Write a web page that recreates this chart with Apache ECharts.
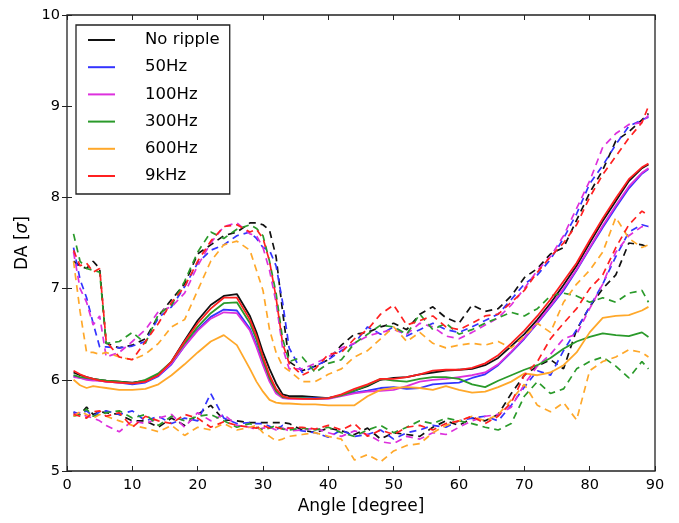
<!DOCTYPE html>
<html>
<head>
<meta charset="utf-8">
<script src="https://cdn.jsdelivr.net/npm/echarts@6/dist/echarts.min.js"></script>
<style>
html, body { margin: 0; padding: 0; background: #fff; }
#chart { width: 679px; height: 523px; }
</style>
</head>
<body>
<div id="chart"></div>
<script>
// sampled angles [degree]
const angles = [1, 2, 3, 4, 5, 6, 8, 10, 12, 14,
  16, 18, 20, 22, 24, 26, 28, 29, 30, 31,
  32, 33, 34, 36, 38, 40, 42, 44, 46, 48,
  50, 52, 54, 56, 58, 60, 62, 64, 66, 68,
  70, 72, 74, 76, 78, 80, 82, 84, 86, 88, 89]

// No ripple
const noRippleMid = [6.08, 6.05, 6.03, 6.01, 6.00, 5.99, 5.98, 5.97, 5.99, 6.06,
  6.20, 6.43, 6.65, 6.82, 6.92, 6.94, 6.70, 6.52, 6.30, 6.12,
  5.96, 5.84, 5.82, 5.82, 5.81, 5.80, 5.83, 5.88, 5.93, 6.00,
  6.02, 6.03, 6.06, 6.08, 6.10, 6.11, 6.12, 6.16, 6.24, 6.37,
  6.50, 6.66, 6.84, 7.04, 7.25, 7.50, 7.74, 7.96, 8.18, 8.32, 8.36]
const noRippleHi = [7.30, 7.25, 7.22, 7.30, 7.22, 6.40, 6.35, 6.38, 6.45, 6.70,
  6.88, 7.05, 7.38, 7.48, 7.58, 7.62, 7.72, 7.72, 7.70, 7.64,
  7.35, 6.75, 6.20, 6.10, 6.15, 6.22, 6.38, 6.50, 6.52, 6.58,
  6.62, 6.55, 6.72, 6.80, 6.68, 6.62, 6.82, 6.75, 6.78, 6.92,
  7.12, 7.22, 7.38, 7.45, 7.75, 8.05, 8.30, 8.62, 8.72, 8.85, 8.92]
const noRippleLo = [5.64, 5.62, 5.70, 5.62, 5.65, 5.64, 5.62, 5.55, 5.55, 5.48,
  5.58, 5.50, 5.62, 5.72, 5.56, 5.55, 5.53, 5.53, 5.53, 5.53,
  5.53, 5.53, 5.52, 5.45, 5.42, 5.47, 5.44, 5.40, 5.47, 5.35,
  5.42, 5.40, 5.38, 5.48, 5.55, 5.50, 5.58, 5.55, 5.62, 5.85,
  6.05, 6.15, 6.22, 6.12, 6.55, 6.80, 7.00, 7.15, 7.50, 7.48, 7.45]

// 50Hz
const hz50Mid = [6.04, 6.02, 6.01, 6.00, 5.99, 5.98, 5.97, 5.95, 5.97, 6.04,
  6.17, 6.37, 6.55, 6.69, 6.77, 6.76, 6.56, 6.38, 6.18, 6.00,
  5.86, 5.81, 5.80, 5.80, 5.80, 5.80, 5.83, 5.86, 5.88, 5.91,
  5.92, 5.90, 5.91, 5.95, 5.96, 5.97, 6.02, 6.06, 6.16, 6.30,
  6.45, 6.62, 6.80, 6.98, 7.20, 7.44, 7.67, 7.89, 8.10, 8.26, 8.31]
const hz50Hi = [7.45, 7.10, 6.90, 6.62, 6.36, 6.36, 6.35, 6.37, 6.42, 6.68,
  6.80, 7.02, 7.28, 7.42, 7.48, 7.58, 7.62, 7.55, 7.45, 7.42,
  7.25, 6.85, 6.35, 6.08, 6.15, 6.22, 6.32, 6.40, 6.58, 6.50,
  6.58, 6.48, 6.55, 6.62, 6.55, 6.52, 6.58, 6.65, 6.72, 6.88,
  7.05, 7.15, 7.32, 7.55, 7.82, 8.15, 8.35, 8.58, 8.78, 8.85, 8.88]
const hz50Lo = [5.65, 5.62, 5.66, 5.60, 5.65, 5.66, 5.62, 5.66, 5.55, 5.60,
  5.52, 5.58, 5.55, 5.85, 5.58, 5.52, 5.53, 5.52, 5.52, 5.49,
  5.45, 5.50, 5.47, 5.44, 5.42, 5.37, 5.45, 5.38, 5.40, 5.45,
  5.35, 5.42, 5.45, 5.50, 5.48, 5.55, 5.58, 5.60, 5.55, 5.72,
  5.92, 6.10, 6.05, 6.32, 6.55, 6.80, 7.05, 7.35, 7.62, 7.70, 7.68]

// 100Hz
const hz100Mid = [6.03, 6.02, 6.00, 5.99, 5.99, 5.98, 5.97, 5.96, 5.98, 6.05,
  6.18, 6.37, 6.54, 6.67, 6.74, 6.73, 6.54, 6.36, 6.16, 5.98,
  5.85, 5.80, 5.79, 5.79, 5.79, 5.79, 5.82, 5.85, 5.87, 5.88,
  5.89, 5.93, 5.98, 6.00, 6.01, 6.03, 6.05, 6.08, 6.17, 6.31,
  6.46, 6.63, 6.81, 7.00, 7.21, 7.45, 7.69, 7.91, 8.12, 8.27, 8.32]
const hz100Hi = [7.40, 7.00, 6.85, 6.60, 6.70, 6.25, 6.30, 6.42, 6.55, 6.75,
  6.80, 6.95, 7.25, 7.50, 7.68, 7.72, 7.60, 7.58, 7.45, 7.20,
  6.85, 6.35, 6.12, 6.12, 6.18, 6.25, 6.35, 6.40, 6.48, 6.52,
  6.55, 6.50, 6.62, 6.58, 6.48, 6.45, 6.52, 6.60, 6.68, 6.82,
  7.00, 7.20, 7.35, 7.58, 7.88, 8.18, 8.55, 8.70, 8.80, 8.82, 8.90]
const hz100Lo = [5.62, 5.64, 5.60, 5.58, 5.55, 5.50, 5.43, 5.55, 5.52, 5.58,
  5.62, 5.48, 5.64, 5.55, 5.62, 5.50, 5.48, 5.45, 5.47, 5.48,
  5.45, 5.47, 5.44, 5.45, 5.47, 5.42, 5.38, 5.44, 5.40, 5.32,
  5.30, 5.38, 5.35, 5.42, 5.40, 5.48, 5.55, 5.60, 5.62, 5.70,
  5.95, 6.15, 6.28, 6.45, 6.50, 6.78, 7.05, 7.40, 7.58, 7.68, 7.68]

// 300Hz
const hz300Mid = [6.05, 6.03, 6.02, 6.01, 6.00, 5.99, 5.98, 5.96, 6.00, 6.07,
  6.20, 6.40, 6.58, 6.73, 6.84, 6.85, 6.62, 6.44, 6.22, 6.02,
  5.88, 5.81, 5.80, 5.80, 5.79, 5.80, 5.83, 5.88, 5.94, 6.01,
  5.99, 5.98, 6.01, 6.03, 6.03, 6.01, 5.95, 5.92, 5.99, 6.05,
  6.11, 6.16, 6.24, 6.34, 6.42, 6.47, 6.51, 6.49, 6.48, 6.52, 6.47]
const hz300Hi = [7.60, 7.30, 7.22, 7.20, 7.18, 6.40, 6.42, 6.52, 6.40, 6.72,
  6.82, 7.08, 7.40, 7.62, 7.55, 7.65, 7.70, 7.66, 7.58, 7.30,
  6.95, 6.45, 6.20, 6.25, 6.08, 6.18, 6.22, 6.40, 6.50, 6.60,
  6.58, 6.50, 6.72, 6.55, 6.62, 6.50, 6.55, 6.62, 6.68, 6.74,
  6.70, 6.78, 6.92, 6.95, 6.92, 6.85, 6.90, 6.85, 6.95, 6.98, 6.85]
const hz300Lo = [5.60, 5.62, 5.68, 5.60, 5.62, 5.64, 5.66, 5.58, 5.62, 5.50,
  5.60, 5.55, 5.60, 5.62, 5.55, 5.48, 5.52, 5.48, 5.45, 5.47,
  5.50, 5.46, 5.45, 5.47, 5.45, 5.48, 5.42, 5.38, 5.45, 5.50,
  5.42, 5.48, 5.55, 5.52, 5.58, 5.55, 5.52, 5.48, 5.45, 5.52,
  5.82, 5.98, 5.85, 5.90, 6.12, 6.20, 6.25, 6.15, 6.02, 6.20, 6.12]

// 600Hz
const hz600Mid = [6.00, 5.94, 5.91, 5.93, 5.92, 5.91, 5.89, 5.89, 5.90, 5.95,
  6.05, 6.17, 6.30, 6.42, 6.49, 6.38, 6.12, 5.98, 5.87, 5.78,
  5.75, 5.74, 5.74, 5.73, 5.73, 5.72, 5.72, 5.72, 5.82, 5.89,
  5.91, 5.92, 5.91, 5.89, 5.93, 5.89, 5.86, 5.87, 5.92, 5.98,
  6.07, 6.05, 6.08, 6.16, 6.30, 6.52, 6.68, 6.70, 6.71, 6.76, 6.80]
const hz600Hi = [7.30, 6.75, 6.30, 6.30, 6.28, 6.30, 6.25, 6.22, 6.28, 6.40,
  6.58, 6.66, 6.98, 7.30, 7.48, 7.52, 7.42, 7.20, 6.98, 6.55,
  6.30, 6.15, 6.10, 5.98, 5.98, 6.06, 6.12, 6.25, 6.32, 6.45,
  6.58, 6.42, 6.52, 6.40, 6.35, 6.38, 6.40, 6.38, 6.42, 6.35,
  6.48, 6.62, 6.52, 6.85, 7.05, 7.20, 7.40, 7.78, 7.55, 7.45, 7.48]
const hz600Lo = [5.60, 5.65, 5.62, 5.58, 5.62, 5.60, 5.55, 5.50, 5.47, 5.43,
  5.50, 5.39, 5.48, 5.45, 5.52, 5.45, 5.48, 5.50, 5.42, 5.38,
  5.33, 5.35, 5.38, 5.40, 5.42, 5.38, 5.35, 5.12, 5.18, 5.10,
  5.22, 5.28, 5.30, 5.42, 5.50, 5.55, 5.60, 5.55, 5.62, 5.78,
  5.95, 5.72, 5.65, 5.75, 5.56, 6.10, 6.20, 6.25, 6.33, 6.30, 6.25]

// 9kHz
const khz9Mid = [6.10, 6.06, 6.03, 6.01, 5.99, 5.98, 5.97, 5.96, 5.98, 6.05,
  6.20, 6.42, 6.62, 6.78, 6.90, 6.90, 6.66, 6.48, 6.25, 6.05,
  5.90, 5.82, 5.80, 5.79, 5.79, 5.80, 5.84, 5.90, 5.95, 6.01,
  6.01, 6.03, 6.06, 6.10, 6.11, 6.11, 6.13, 6.18, 6.27, 6.40,
  6.54, 6.70, 6.88, 7.08, 7.28, 7.53, 7.77, 7.99, 8.20, 8.33, 8.37]
const khz9Hi = [7.42, 7.25, 7.28, 7.18, 7.22, 6.42, 6.25, 6.22, 6.42, 6.62,
  6.85, 7.02, 7.30, 7.52, 7.68, 7.70, 7.62, 7.65, 7.55, 7.30,
  6.90, 6.40, 6.18, 6.05, 6.12, 6.28, 6.30, 6.45, 6.55, 6.72,
  6.82, 6.60, 6.65, 6.70, 6.58, 6.55, 6.62, 6.70, 6.72, 6.85,
  6.98, 7.18, 7.35, 7.50, 7.70, 8.00, 8.25, 8.45, 8.65, 8.82, 9.00]
const khz9Lo = [5.62, 5.60, 5.58, 5.65, 5.66, 5.60, 5.64, 5.48, 5.60, 5.55,
  5.52, 5.62, 5.58, 5.48, 5.54, 5.50, 5.48, 5.47, 5.50, 5.47,
  5.48, 5.46, 5.47, 5.48, 5.46, 5.50, 5.45, 5.52, 5.38, 5.45,
  5.40, 5.48, 5.50, 5.45, 5.52, 5.55, 5.60, 5.52, 5.60, 5.75,
  6.05, 6.20, 6.45, 6.62, 6.78, 7.00, 7.15, 7.45, 7.70, 7.85, 7.80]

const groups = [
  { name: 'No ripple', color: '#111111', mid: noRippleMid, hi: noRippleHi, lo: noRippleLo },
  { name: '50Hz', color: '#3434ff', mid: hz50Mid, hi: hz50Hi, lo: hz50Lo },
  { name: '100Hz', color: '#dd30dd', mid: hz100Mid, hi: hz100Hi, lo: hz100Lo },
  { name: '300Hz', color: '#2a9a2a', mid: hz300Mid, hi: hz300Hi, lo: hz300Lo },
  { name: '600Hz', color: '#ffa82a', mid: hz600Mid, hi: hz600Hi, lo: hz600Lo },
  { name: '9kHz', color: '#ff2020', mid: khz9Mid, hi: khz9Hi, lo: khz9Lo }
]

const font = 'DejaVu Sans'

function lineSeries (name, color, values, dashed) {
  return {
    name: name,
    type: 'line',
    symbol: 'none',
    color: color,
    lineStyle: { width: dashed ? 1.7 : 1.8, color: color, type: dashed ? [7, 5] : 'solid' },
    data: angles.map((a, i) => [a, values[i]])
  }
}

const series = []
groups.forEach(g => {
  series.push(lineSeries(g.name, g.color, g.mid, false))
  series.push(lineSeries(g.name + ' upper', g.color, g.hi, true))
  series.push(lineSeries(g.name + ' lower', g.color, g.lo, true))
})

const tickLabel = { fontFamily: font, fontSize: 14.5, color: '#000' }
const innerTick = { show: true, inside: true, length: 5, lineStyle: { color: '#222', width: 1 } }

const options = {
  animation: false,
  backgroundColor: '#fff',
  grid: {
    left: 67,
    right: 24,
    top: 15,
    bottom: 52,
    show: true,
    borderColor: '#222',
    borderWidth: 1.3
  },
  legend: {
    data: groups.map(g => g.name),
    orient: 'vertical',
    left: 76,
    top: 25,
    padding: [5, 10, 8, 12],
    itemGap: 7.2,
    itemWidth: 27,
    itemHeight: 2,
    icon: 'rect',
    borderColor: '#222',
    borderWidth: 1.3,
    backgroundColor: '#fff',
    textStyle: { fontFamily: font, fontSize: 16.5, color: '#000', lineHeight: 20, padding: [0, 0, 0, 25] }
  },
  xAxis: [
    {
      type: 'value',
      min: 0,
      max: 90,
      interval: 10,
      name: 'Angle [degree]',
      nameLocation: 'middle',
      nameGap: 27,
      nameTextStyle: { fontFamily: font, fontSize: 17, color: '#000' },
      axisLine: { show: false },
      axisTick: innerTick,
      axisLabel: Object.assign({ margin: 7 }, tickLabel),
      splitLine: { show: false }
    },
    {
      type: 'value',
      position: 'top',
      min: 0,
      max: 90,
      interval: 10,
      axisLine: { show: false },
      axisTick: innerTick,
      axisLabel: { show: false },
      splitLine: { show: false }
    }
  ],
  yAxis: [
    {
      type: 'value',
      min: 5,
      max: 10,
      interval: 1,
      name: 'DA [{i|σ}]',
      nameLocation: 'middle',
      nameGap: 36,
      nameTextStyle: {
        fontFamily: font,
        fontSize: 17,
        color: '#000',
        rich: { i: { fontFamily: font, fontSize: 17, fontStyle: 'italic', color: '#000' } }
      },
      axisLine: { show: false },
      axisTick: innerTick,
      axisLabel: Object.assign({ margin: 7 }, tickLabel),
      splitLine: { show: false }
    },
    {
      type: 'value',
      position: 'right',
      min: 5,
      max: 10,
      interval: 1,
      axisLine: { show: false },
      axisTick: innerTick,
      axisLabel: { show: false },
      splitLine: { show: false }
    }
  ],
  series: series
}

const myChart = echarts.init(document.getElementById('chart'), null, { renderer: 'canvas' })
myChart.setOption(options)
</script>
</body>
</html>
